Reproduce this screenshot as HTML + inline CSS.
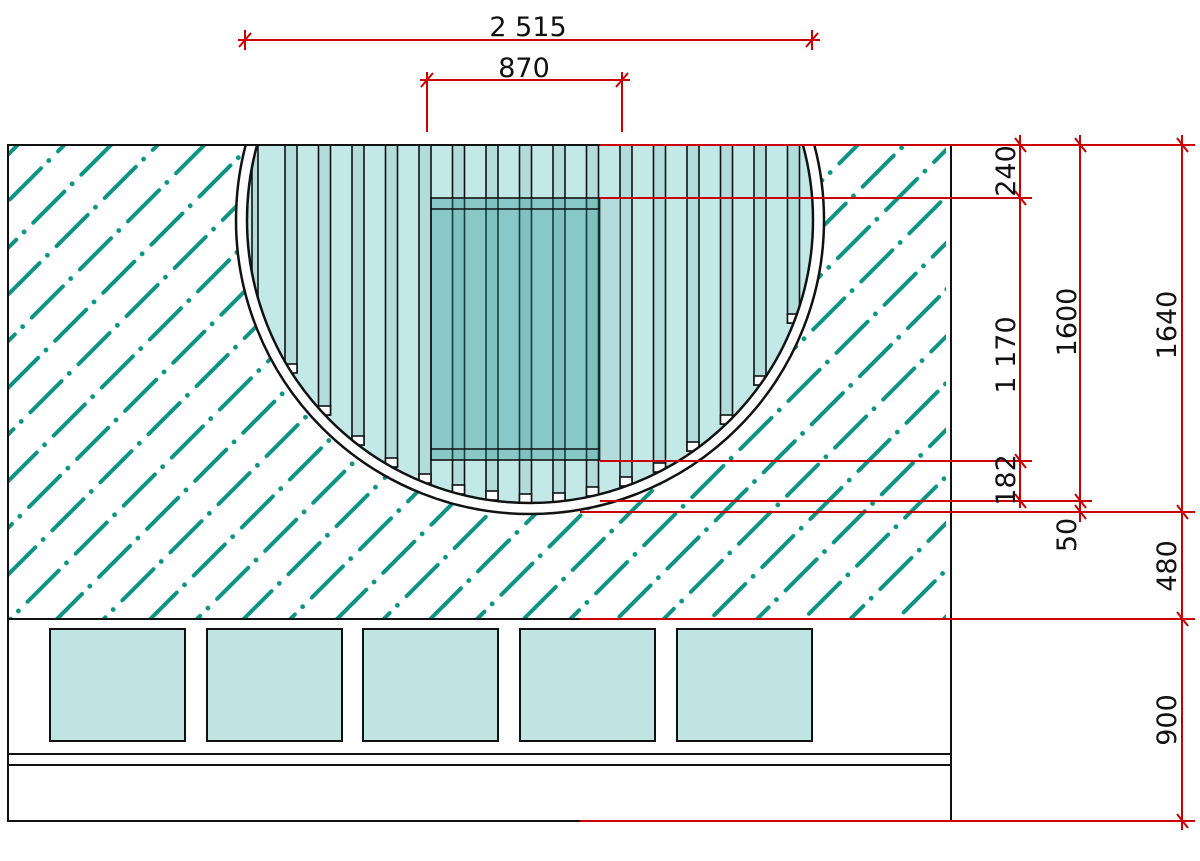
<!DOCTYPE html>
<html><head><meta charset="utf-8"><style>
html,body{margin:0;padding:0;background:#fff;}
svg{display:block;}
text{font-family:"DejaVu Sans","Liberation Sans",sans-serif;font-size:27px;fill:#111;}
</style></head><body>
<svg width="1200" height="861" viewBox="0 0 1200 861" xmlns="http://www.w3.org/2000/svg">
<defs>
<pattern id="h" patternUnits="userSpaceOnUse" width="68" height="33" patternTransform="rotate(-45)">
<line x1="2" y1="16" x2="46" y2="16" stroke="#0b9484" stroke-width="4" stroke-linecap="round"/>
<circle cx="57" cy="16" r="2.4" fill="#0b9484"/>
</pattern>
<clipPath id="ci"><circle cx="530" cy="220" r="283"/></clipPath>
<clipPath id="top"><rect x="8" y="145" width="943" height="474"/></clipPath>
</defs>
<!-- hatch -->
<rect x="9" y="146" width="937" height="472" fill="url(#h)"/>
<g clip-path="url(#top)">
<circle cx="530" cy="220" r="294" fill="#fff" stroke="#111" stroke-width="2.5"/>
<g clip-path="url(#ci)">
<rect x="200" y="145" width="700" height="400" fill="#c2e8e8"/>
<g fill="#b2dcdc" stroke="#111" stroke-width="1.6">
<rect x="252" y="140" width="6" height="180"/>
<rect x="285" y="140" width="12" height="232"/>
<rect x="318.5" y="140" width="12" height="275"/>
<rect x="352" y="140" width="12" height="305"/>
<rect x="385.5" y="140" width="12" height="327"/>
<rect x="419" y="140" width="12" height="343"/>
<rect x="452.5" y="140" width="12" height="354"/>
<rect x="486" y="140" width="12" height="360"/>
<rect x="519.5" y="140" width="12" height="363"/>
<rect x="553" y="140" width="12" height="362"/>
<rect x="586.5" y="140" width="12" height="356"/>
<rect x="620" y="140" width="12" height="346"/>
<rect x="653.5" y="140" width="12" height="332"/>
<rect x="687" y="140" width="12" height="311"/>
<rect x="720.5" y="140" width="12" height="284"/>
<rect x="754" y="140" width="12" height="245"/>
<rect x="787.5" y="140" width="12" height="183"/>
</g>
<g fill="#fff" stroke="#111" stroke-width="1.6">
<rect x="252" y="312" width="7" height="8"/>
<rect x="285" y="364" width="12" height="9"/>
<rect x="318.5" y="406" width="12" height="9"/>
<rect x="352" y="436" width="12" height="9"/>
<rect x="385.5" y="458" width="12" height="9"/>
<rect x="419" y="474" width="12" height="9"/>
<rect x="452.5" y="485" width="12" height="9"/>
<rect x="486" y="491" width="12" height="9"/>
<rect x="519.5" y="494" width="12" height="9"/>
<rect x="553" y="493" width="12" height="9"/>
<rect x="586.5" y="487" width="12" height="9"/>
<rect x="620" y="477" width="12" height="9"/>
<rect x="653.5" y="463" width="12" height="9"/>
<rect x="687" y="442" width="12" height="9"/>
<rect x="720.5" y="415" width="12" height="9"/>
<rect x="754" y="376" width="12" height="9"/>
<rect x="787.5" y="314" width="12" height="9"/>
</g>
<!-- seat -->
<rect x="431" y="198" width="169" height="262" fill="#1e8f89" fill-opacity="0.35" stroke="#111" stroke-width="1.6"/>
<rect x="600" y="198" width="20" height="262" fill="#a8d4d4" fill-opacity="0.6"/>
<line x1="431" y1="209" x2="600" y2="209" stroke="#111" stroke-width="1.6"/>
<line x1="431" y1="449" x2="600" y2="449" stroke="#111" stroke-width="1.6"/>
</g>
<circle cx="530" cy="220" r="283" fill="none" stroke="#111" stroke-width="2.5"/>
</g>
<!-- frame -->
<g fill="none" stroke="#111" stroke-width="2">
<rect x="8" y="145" width="943" height="676"/>
<line x1="8" y1="619" x2="951" y2="619"/>
<line x1="8" y1="754" x2="951" y2="754"/>
<line x1="8" y1="765" x2="951" y2="765"/>
</g>
<g fill="#c1e5e3" stroke="#111" stroke-width="2">
<rect x="50" y="629" width="135" height="112"/>
<rect x="207" y="629" width="135" height="112"/>
<rect x="363" y="629" width="135" height="112"/>
<rect x="520" y="629" width="135" height="112"/>
<rect x="677" y="629" width="135" height="112"/>
</g>
<!-- dimensions -->
<g stroke="#cc0000" stroke-width="2" fill="none">
<line x1="238" y1="40" x2="820" y2="40"/>
<line x1="245" y1="30" x2="245" y2="50"/><line x1="812" y1="30" x2="812" y2="50"/>
<line x1="239" y1="47" x2="251" y2="33"/><line x1="806" y1="47" x2="818" y2="33"/>
<line x1="420" y1="80" x2="630" y2="80"/>
<line x1="427" y1="72" x2="427" y2="132"/><line x1="622" y1="72" x2="622" y2="132"/>
<line x1="421" y1="87" x2="433" y2="73"/><line x1="616" y1="87" x2="628" y2="73"/>
<line x1="600" y1="145" x2="1195" y2="145"/>
<line x1="600" y1="198" x2="1032" y2="198"/>
<line x1="600" y1="461" x2="1032" y2="461"/>
<line x1="600" y1="501" x2="1092" y2="501"/>
<line x1="580" y1="512" x2="1195" y2="512"/>
<line x1="580" y1="619" x2="1195" y2="619"/>
<line x1="580" y1="821" x2="1195" y2="821"/>
<line x1="1020" y1="135" x2="1020" y2="508"/>
<line x1="1080" y1="135" x2="1080" y2="522"/>
<line x1="1182" y1="135" x2="1182" y2="830"/>
<g>
<line x1="1015" y1="138" x2="1026" y2="152"/><line x1="1015" y1="191" x2="1026" y2="205"/>
<line x1="1015" y1="454" x2="1026" y2="468"/><line x1="1015" y1="494" x2="1026" y2="508"/>
<line x1="1075" y1="138" x2="1086" y2="152"/><line x1="1075" y1="494" x2="1086" y2="508"/>
<line x1="1075" y1="505" x2="1086" y2="519"/>
<line x1="1177" y1="138" x2="1188" y2="152"/><line x1="1177" y1="505" x2="1188" y2="519"/>
<line x1="1177" y1="612" x2="1188" y2="626"/><line x1="1177" y1="814" x2="1188" y2="828"/>
</g>
</g>
<text x="528" y="36" text-anchor="middle">2 515</text>
<text x="524" y="77" text-anchor="middle">870</text>
<text transform="translate(1015,171) rotate(-90)" text-anchor="middle">240</text>
<text transform="translate(1015,355) rotate(-90)" text-anchor="middle">1 170</text>
<text transform="translate(1015,480) rotate(-90)" text-anchor="middle">182</text>
<text transform="translate(1076,322) rotate(-90)" text-anchor="middle">1600</text>
<text transform="translate(1176,325) rotate(-90)" text-anchor="middle">1640</text>
<text transform="translate(1076,535) rotate(-90)" text-anchor="middle">50</text>
<text transform="translate(1176,566) rotate(-90)" text-anchor="middle">480</text>
<text transform="translate(1176,720) rotate(-90)" text-anchor="middle">900</text>
</svg>
</body></html>
